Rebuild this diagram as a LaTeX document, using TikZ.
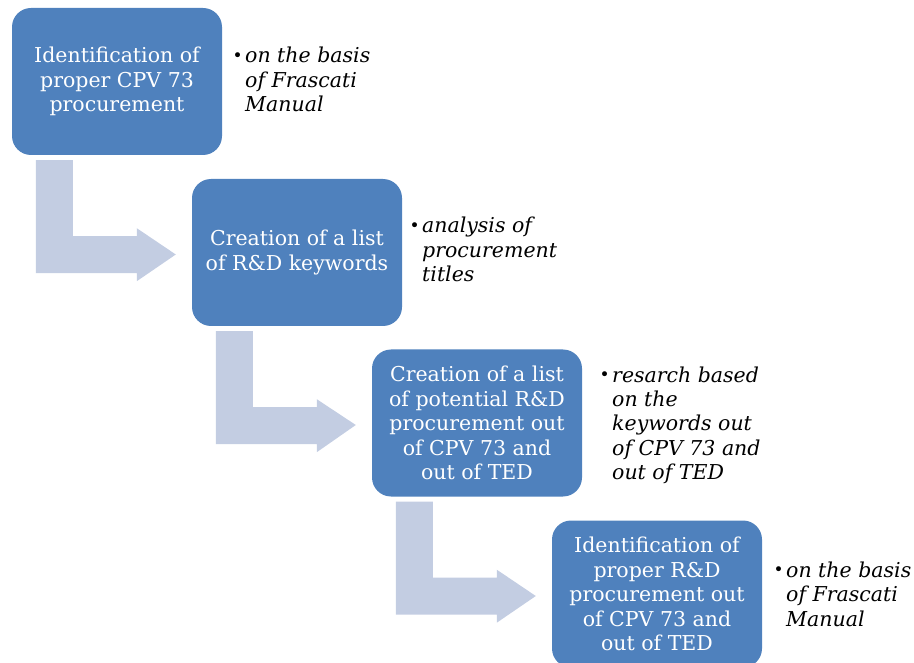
\documentclass[tikz,border=0pt]{standalone}
\usepackage{fontspec}
\setmainfont{DejaVu Serif}
\usetikzlibrary{calc}
\definecolor{boxblue}{HTML}{4F81BD}
\definecolor{arrowblue}{HTML}{C3CDE2}
\tikzset{
  stepbox/.style={fill=boxblue, draw=none, rounded corners=19pt,
    minimum width=210pt, minimum height=147pt, inner sep=0pt,
    text=white, align=center, font=\fontsize{20.5}{24.5}\selectfont},
  notetext/.style={anchor=base west, inner sep=0pt, text=black,
    font=\fontsize{20.5}{24.5}\selectfont\itshape},
  arrowfill/.style={fill=arrowblue, draw=none}
}
\newcommand{\notelines}[1]{\begin{tabular}[t]{@{}l@{}}#1\end{tabular}}
\newcommand{\notebullet}{\makebox[0pt][r]{\upshape\fontsize{17}{17}\selectfont\raisebox{1.5pt}{\textbullet}\hspace{2.5pt}}}
\begin{document}
\begin{tikzpicture}[x=1pt, y=-1pt]
\useasboundingbox (0,0) rectangle (914,663);
% boxes
\node[stepbox] (b1) at (117,81.5) {Identification of\\proper CPV 73\\procurement};
\node[stepbox] (b2) at (297,252.5) {Creation of a list\\of R\&D keywords};
\node[stepbox] (b3) at (477,423) {Creation of a list\\of potential R\&D\\procurement out\\of CPV 73 and\\out of TED};
\node[stepbox] (b4) at (657,594) {Identification of\\proper R\&D\\procurement out\\of CPV 73 and\\out of TED};
% bent arrows
\foreach \a/\b in {b1/b2, b2/b3, b3/b4}{
  \fill[arrowfill] ($(\a.south west)+(24,5)$) -- ($(\a.south west)+(61,5)$)
    -- ($(\a.south west)+(61,81)$) -- ($(\a.south west)+(125,81)$)
    -- ($(\a.south west)+(125,73)$) -- ($(\b.west)+(-16,2)$)
    -- ($(\a.south west)+(125,126)$) -- ($(\a.south west)+(125,118)$)
    -- ($(\a.south west)+(24,118)$) -- cycle;
}
% notes
\node[notetext] (n1) at (245,63) {\notelines{\notebullet on the basis\\of Frascati\\Manual}};
\node[notetext] (n2) at (422,233) {\notelines{\notebullet analysis of\\procurement\\titles}};
\node[notetext] (n3) at (612,382) {\notelines{\notebullet resarch based\\on the\\keywords out\\of CPV 73 and\\out of TED}};
\node[notetext] (n4) at (786,577) {\notelines{\notebullet on the basis\\of Frascati\\Manual}};
\end{tikzpicture}
\end{document}
